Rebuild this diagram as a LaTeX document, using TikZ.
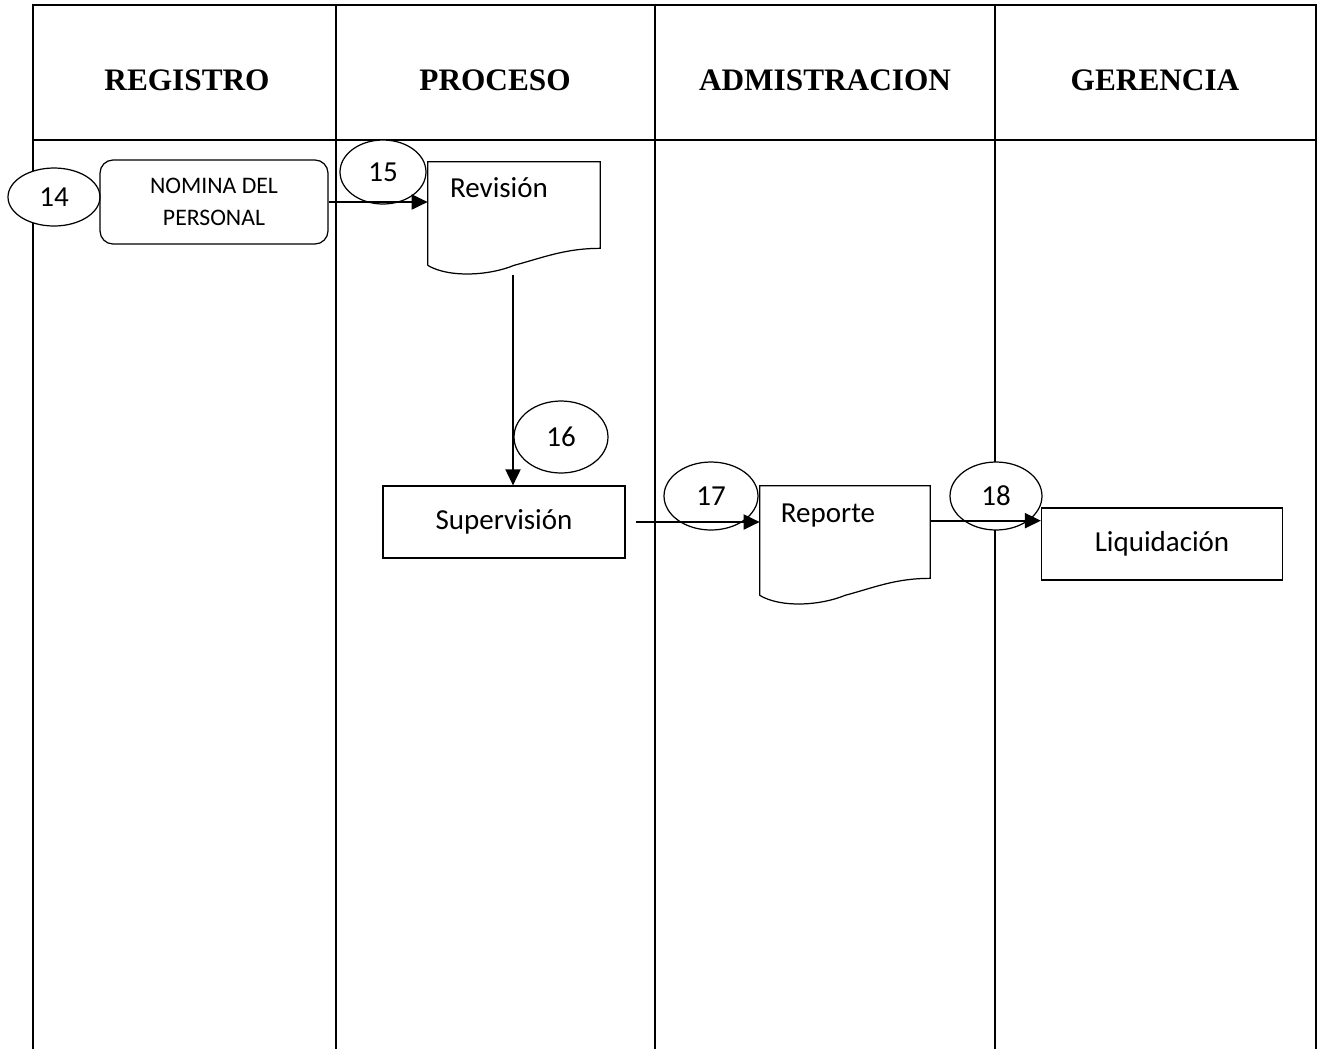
\documentclass[tikz,border=0pt]{standalone}
\usepackage{fontspec}
\setmainfont{Carlito}
\newfontfamily\headfont{Liberation Serif}
\usetikzlibrary{arrows.meta,calc,positioning,shapes.geometric}
\tikzset{%
	lane/.style     = {line width=1.1pt},
	heading/.style  = {font=\headfont\bfseries\fontsize{17.8}{20}\selectfont},
	process/.style  = {draw, line width=0.7pt, rectangle, inner sep=0pt, font=\fontsize{16.5}{19}\selectfont},
	startstop/.style= {process, rounded corners=0.26cm, align=center, font=\fontsize{13.5}{18.2}\selectfont},
	docbox/.style   = {rectangle, inner sep=0pt},
	docline/.style  = {line width=0.7pt},
	step num/.style = {draw, fill=white, line width=0.7pt, ellipse, inner sep=0pt, font=\fontsize{16.5}{19}\selectfont},
	label text/.style= {font=\fontsize{16.5}{19}\selectfont},
	arrow/.style    = {line width=1.1pt, -{Triangle[length=0.32cm,width=0.3cm]}},
}
\newcommand{\docoutline}[1]{%
	\coordinate (#1 mid) at ($(#1.south)+(0,17)$);
	\coordinate (#1 end) at ($(#1.south west)+(0,17)$);
	\draw[docline] (#1 end) -- (#1.north west) -- (#1.north east) -- (#1.south east)
		.. controls ($(#1.south east)+(-35,0)$) and ($(#1 mid)+(30,-8)$) .. (#1 mid)
		.. controls ($(#1 mid)+(-24,10)$) and ($(#1 end)+(22,13)$) .. (#1 end);}
\begin{document}
\begin{tikzpicture}[x=0.02cm,y=-0.02cm]
	\useasboundingbox (0,0) rectangle (1322,1049);
	% swim lanes
	\draw[lane] (33,1049) -- (33,5) -- (1316,5) -- (1316,1049);
	\draw[lane] (33,140) -- (1316,140);
	\foreach \x in {336,655,995}
		\draw[lane] (\x,5) -- (\x,1049);
	\node[heading] (hreg) at (187,80) {REGISTRO};
	\node[heading] (hpro) at (495,80) {PROCESO};
	\node[heading] (hadm) at (825,80) {ADMISTRACION};
	\node[heading] (hger) at (1155,80) {GERENCIA};
	% step numbers
	\node[step num, minimum width=1.84cm, minimum height=1.16cm] (n14) at (54,197) {14};
	\node[step num, minimum width=1.72cm, minimum height=1.28cm] (n15) at (383,172) {15};
	\node[step num, minimum width=1.88cm, minimum height=1.44cm] (n16) at (561,437) {16};
	\node[step num, minimum width=1.88cm, minimum height=1.36cm] (n17) at (711,496) {17};
	\node[step num, minimum width=1.84cm, minimum height=1.36cm] (n18) at (996,496) {18};
	% activities
	\node[startstop, minimum width=4.56cm, minimum height=1.68cm] (nom) at (214,202) {NOMINA DEL\\PERSONAL};
	\node[docbox, minimum width=3.44cm, minimum height=1.72cm] (rev) at (514,205) {};
	\docoutline{rev}
	\node[label text] (revtxt) at (499,188) {Revisión};
	\node[process, minimum width=4.84cm, minimum height=1.44cm] (sup) at (504,522) {Supervisión};
	\node[docbox, minimum width=3.4cm, minimum height=1.84cm] (rep) at (845,532) {};
	\docoutline{rep}
	\node[label text] (reptxt) at (828,516) {Reporte};
	\node[process, minimum width=4.82cm, minimum height=1.44cm] (liq) at (1162,544) {Liquidación};
	% flow
	\draw[arrow] (nom.east) -- (nom.east -| rev.west);
	\draw[arrow] ($(rev.south)+(-1,27)$) coordinate (r0) -- (r0 |- sup.north);
	\draw[arrow] ($(sup.east)+(10,0)$) coordinate (s0) -- (s0 -| rep.west);
	\draw[arrow] ($(rep.north east)+(0,35)$) coordinate (p0) -- (p0 -| liq.west);
\end{tikzpicture}
\end{document}
